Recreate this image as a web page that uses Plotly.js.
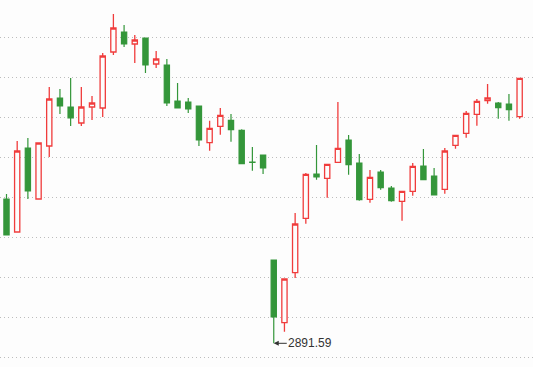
<!DOCTYPE html>
<html>
<head>
<meta charset="utf-8">
<script src="https://cdn.plot.ly/plotly-3.0.1.min.js"></script>
<style>
  html, body { margin: 0; padding: 0; background: #fdfdfd; }
  #chart { width: 533px; height: 367px; }
</style>
</head>
<body>
<div id="chart"></div>
<script>
// Trading sessions (index along the time axis)
const sessions = [0, 1, 2, 3, 4, 5, 6, 7, 8, 9,
  10, 11, 12, 13, 14, 15, 16, 17, 18, 19,
  20, 21, 22, 23, 24, 25, 26, 27, 28, 29,
  30, 31, 32, 33, 34, 35, 36, 37, 38, 39,
  40, 41, 42, 43, 44, 45, 46, 47, 48, 49];

const openPx = [2990.74, 2963.74, 2947.24, 2989.24, 2963.74, 2990.24, 3014.24, 3009.74, 3001.74, 3009.74,
  3009.24, 3037.24, 3047.24, 3041.24, 3044.24, 3031.24, 3030.74, 3012.74, 3012.24, 3010.24,
  2991.89, 3000.09, 3003.09, 2998.09, 2982.24, 2985.74, 2933.24, 2901.89, 2926.89, 2954.09,
  2976.24, 2974.09, 2982.09, 2993.24, 2981.74, 2963.59, 2977.24, 2969.24, 2962.59, 2967.59,
  2980.24, 2975.24, 2968.59, 2990.59, 2996.59, 3006.09, 3012.89, 3011.74, 3011.24, 3004.89];

const highPx = [2991.74, 2966.24, 2992.74, 2994.24, 2991.90, 3019.74, 3018.74, 3024.24, 3019.74, 3015.24,
  3036.74, 3056.24, 3050.74, 3045.74, 3044.30, 3037.74, 3033.74, 3021.74, 3014.24, 3010.30,
  3002.89, 3009.24, 3006.24, 2998.59, 2989.74, 2985.80, 2933.30, 2924.10, 2956.74, 2976.74,
  2990.74, 2981.20, 3012.24, 2995.74, 2986.24, 2978.24, 2978.24, 2970.24, 2967.70, 2981.74,
  2988.74, 2979.24, 2989.24, 2995.70, 3007.74, 3013.74, 3021.24, 3012.24, 3016.24, 3024.20];

const lowPx = [2961.24, 2945.50, 2947.00, 2963.74, 2963.60, 2984.74, 3006.24, 3000.24, 3000.24, 3003.24,
  3004.74, 3035.74, 3039.74, 3031.74, 3026.74, 3029.24, 3010.24, 3009.10, 3006.74, 2990.24,
  2987.89, 2995.89, 2992.39, 2981.20, 2977.89, 2976.24, 2891.59, 2897.39, 2924.24, 2951.39,
  2973.39, 2964.39, 2982.00, 2975.89, 2962.89, 2961.89, 2968.39, 2962.39, 2952.89, 2965.39,
  2973.30, 2965.60, 2966.39, 2988.89, 2994.39, 3000.39, 3011.39, 3003.89, 3002.89, 3003.89];

const closePx = [2962.24, 2945.74, 2987.74, 2967.74, 2991.74, 3013.74, 3010.24, 3004.24, 3009.74, 3011.74,
  3035.24, 3049.24, 3041.24, 3043.24, 3030.74, 3033.74, 3011.74, 3009.24, 3008.74, 2993.24,
  2999.09, 3005.59, 2998.39, 2981.39, 2982.00, 2979.24, 2904.74, 2923.74, 2951.24, 2976.09,
  2974.74, 2981.09, 2989.09, 2980.89, 2963.39, 2974.59, 2969.39, 2962.89, 2967.59, 2980.09,
  2973.39, 2965.74, 2987.74, 2995.59, 3006.59, 3012.59, 3014.24, 3009.39, 3008.39, 3024.09];

// Period low marker
const lowLabel = '2891.59';
const lowValue = 2891.59;
const lowSession = 26;

const UP = '#f03c3c';
const DOWN = '#34963a';
const BG = '#fdfdfd';

const trace = {
  type: 'candlestick',
  x: sessions,
  open: openPx,
  high: highPx,
  low: lowPx,
  close: closePx,
  whiskerwidth: 0,
  increasing: { line: { color: UP, width: 1.3 }, fillcolor: BG },
  decreasing: { line: { color: DOWN, width: 1.2 }, fillcolor: DOWN },
  hoverinfo: 'skip'
};

const layout = {
  width: 533,
  height: 367,
  margin: { l: 0, r: 0, t: 0, b: 0, pad: 0 },
  paper_bgcolor: BG,
  plot_bgcolor: BG,
  showlegend: false,
  xaxis: {
    type: 'linear',
    range: [0.392, 50.25],
    showgrid: false,
    zeroline: false,
    showticklabels: false,
    ticks: '',
    rangeslider: { visible: false },
    fixedrange: true
  },
  yaxis: {
    range: [2879.74, 3063.24],
    tickmode: 'linear',
    tick0: 2884.59,
    dtick: 20,
    showgrid: true,
    gridcolor: '#bdbdbd',
    gridwidth: 1,
    griddash: '1px,3px',
    zeroline: false,
    showticklabels: false,
    ticks: '',
    fixedrange: true
  },
  annotations: [{
    x: lowSession,
    y: lowValue,
    xref: 'x',
    yref: 'y',
    text: lowLabel,
    showarrow: true,
    arrowhead: 2,
    arrowsize: 1,
    arrowwidth: 1,
    arrowcolor: '#333333',
    ax: 13,
    ay: 0,
    xanchor: 'left',
    yanchor: 'middle',
    borderpad: 0,
    font: { family: 'Liberation Sans, Arial, sans-serif', size: 12, color: '#333333' }
  }]
};

Plotly.newPlot('chart', [trace], layout, { displayModeBar: false, staticPlot: true });
</script>
</body>
</html>
